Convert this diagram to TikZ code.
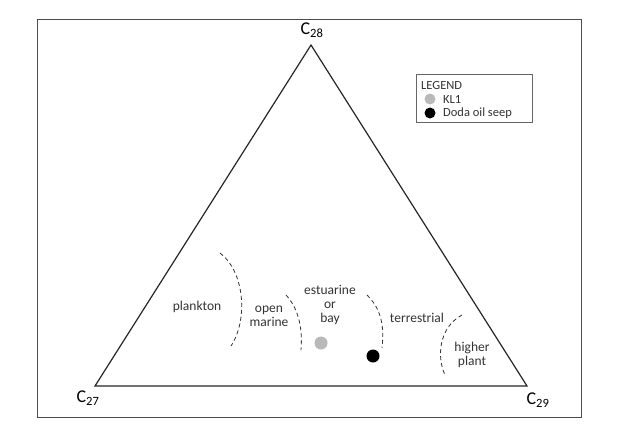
\documentclass[tikz,border=0pt]{standalone}
\usepackage{fontspec}
\setmainfont{Carlito}
\begin{document}
\begin{tikzpicture}[x=1pt,y=-1pt,
  lab/.style={font=\fontsize{13.5}{14}\selectfont, text=black!80, align=center, inner sep=0pt},
  leg/.style={font=\fontsize{12.5}{13.5}\selectfont, text=black!80, inner sep=0pt, anchor=west},
  vlab/.style={font=\fontsize{18}{19}\selectfont, inner sep=0pt},
  bound/.style={dashed, dash pattern=on 4pt off 3pt, line width=0.8pt, black!80},
  tri/.style={line width=1.2pt, black!85}]
\useasboundingbox (0,0) rectangle (617,444);
\draw[line width=0.6pt, black!70] (37,19) rectangle (581,417);
\coordinate (A) at (311,45);
\coordinate (L) at (95,386);
\coordinate (R) at (527,386);
\draw[tri] (A) -- (L) -- (R) -- cycle;
\node[vlab] (c28) at (312,30) {C$_{\mathrm{28}}$};
\node[vlab] (c27) at (88,398) {C$_{\mathrm{27}}$};
\node[vlab] (c29) at (538,400) {C$_{\mathrm{29}}$};
% boundaries
\draw[bound] (220,253) .. controls (245,272) and (248,320) .. (231,346);
\draw[bound] (286,295) .. controls (297,307) and (303,325) .. (301,350);
\draw[bound] (367,295) .. controls (379,307) and (385,322) .. (382,348);
\draw[bound] (462,315) .. controls (438,328) and (437,358) .. (445,375);
% labels
\node[lab] (pl) at (197,307) {plankton};
\node[lab] (om) at (269,316) {open\\marine};
\node[lab] (es) at (330,305) {estuarine\\or\\bay};
\node[lab] (te) at (417,318) {terrestrial};
\node[lab] (hp) at (472,355) {higher\\plant};
% points
\fill[gray!55] (321,343) circle (6.5);
\fill[black] (373,356) circle (6.5);
% legend
\draw[line width=0.5pt, black!60] (416,74) rectangle (532,122);
\node[leg] (lg) at (421,85) {LEGEND};
\fill[gray!55] (430,99) circle (5.5);
\node[leg] (k1) at (443,99) {KL1};
\fill[black] (430,113) circle (5.5);
\node[leg] (dd) at (443,113) {Doda oil seep};
\end{tikzpicture}
\end{document}
